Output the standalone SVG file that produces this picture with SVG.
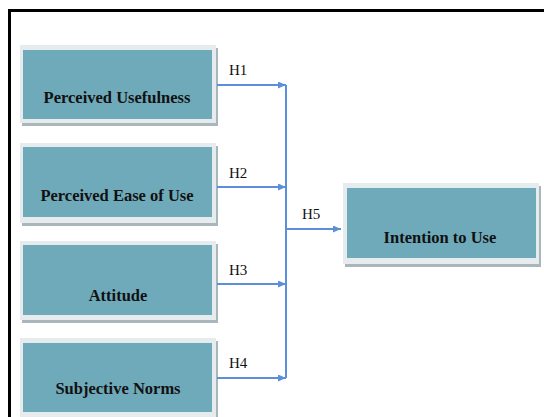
<svg xmlns="http://www.w3.org/2000/svg" width="544" height="417" viewBox="0 0 544 417">
<defs>
<style>
.frame{fill:none;stroke:#000;stroke-width:3}
.sh{fill:#a9b6bc}
.bd{fill:#e6ecee}
.box{fill:#6faaba}
.t{font-family:"Liberation Serif","Times New Roman",serif;font-weight:bold;font-size:16.5px;fill:#111;text-anchor:middle}
.l{font-family:"Liberation Serif","Times New Roman",serif;font-size:15px;fill:#111}
.c{fill:none;stroke:#5b8fd9;stroke-width:2}
</style>
<marker id="ah" viewBox="0 0 10 10" refX="10" refY="5" markerWidth="8" markerHeight="7" orient="auto" markerUnits="userSpaceOnUse" preserveAspectRatio="none">
<path d="M0,0 L10,5 L0,10 z" fill="#5b8fd9"/>
</marker>
</defs>
<rect width="544" height="417" fill="#fff"/>
<path class="frame" d="M9.5,419 V10.5 H546"/>
<g id="n1">
<rect class="sh" x="22" y="48" width="196" height="78"/>
<rect class="bd" x="20" y="45" width="196" height="78"/>
<rect class="box" x="23" y="50" width="189" height="69"/>
<text class="t" x="117" y="103">Perceived Usefulness</text>
</g>
<g id="n2">
<rect class="sh" x="22" y="146" width="196" height="80"/>
<rect class="bd" x="20" y="143" width="196" height="80"/>
<rect class="box" x="23" y="147" width="189" height="70"/>
<text class="t" x="117" y="201">Perceived Ease of Use</text>
</g>
<g id="n3">
<rect class="sh" x="22" y="244" width="196" height="79"/>
<rect class="bd" x="20" y="241" width="196" height="79"/>
<rect class="box" x="23" y="245" width="189" height="70"/>
<text class="t" x="118" y="301">Attitude</text>
</g>
<g id="n4">
<rect class="sh" x="22" y="341" width="196" height="80"/>
<rect class="bd" x="20" y="338" width="196" height="80"/>
<rect class="box" x="23" y="343" width="189" height="69"/>
<text class="t" x="118" y="394">Subjective Norms</text>
</g>
<g id="n5">
<rect class="sh" x="345" y="186" width="196" height="81"/>
<rect class="bd" x="343" y="183" width="196" height="81"/>
<rect class="box" x="347" y="188" width="189" height="70"/>
<text class="t" x="440" y="243">Intention to Use</text>
</g>
<g id="connectors">
<path class="c" d="M286,85 V378"/>
<path class="c" d="M217,85 H286" marker-end="url(#ah)"/>
<path class="c" d="M217,187 H286" marker-end="url(#ah)"/>
<path class="c" d="M217,284 H286" marker-end="url(#ah)"/>
<path class="c" d="M217,378 H286" marker-end="url(#ah)"/>
<path class="c" d="M286,229 H341" marker-end="url(#ah)"/>
<text class="l" x="229" y="75">H1</text>
<text class="l" x="229" y="178">H2</text>
<text class="l" x="229" y="275">H3</text>
<text class="l" x="229" y="368">H4</text>
<text class="l" x="302" y="219">H5</text>
</g>
</svg>
